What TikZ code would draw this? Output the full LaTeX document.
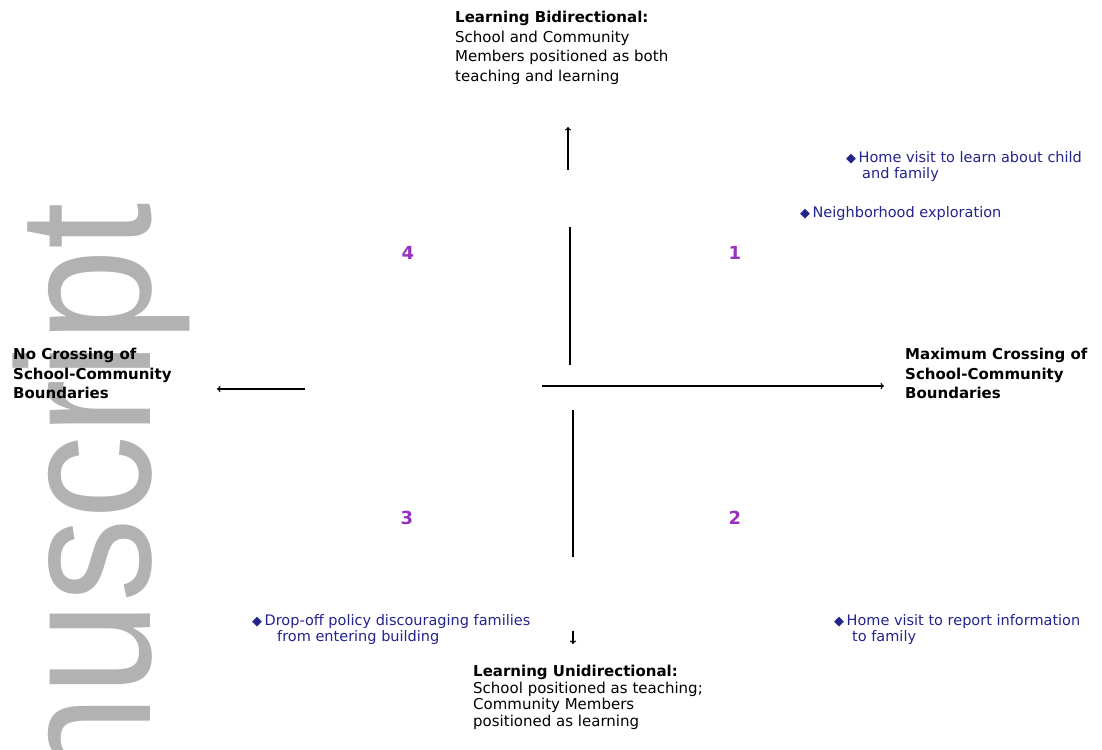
\documentclass[tikz,border=0pt]{standalone}
\usepackage{fontspec}
\setmainfont{DejaVu Sans}
\setsansfont{Liberation Sans}
\usetikzlibrary{positioning}
\definecolor{quadnum}{RGB}{150,50,190}
\definecolor{itemblue}{RGB}{35,35,140}
\definecolor{markgray}{RGB}{178,178,178}

\begin{document}
\begin{tikzpicture}[x=1pt, y=-1pt,
    axis/.style={line width=1.3pt, ->},
    axisline/.style={line width=1.3pt},
    pole/.style={anchor=north west, inner sep=0pt, align=left, font=\fontsize{15}{19.5}\selectfont},
    quad/.style={text=quadnum, font=\fontsize{18}{18}\selectfont\bfseries},
    item/.style={anchor=north west, inner sep=0pt, align=left, text=itemblue, font=\fontsize{14.5}{16}\selectfont}]
    \useasboundingbox (0,0) rectangle (1102,749);

    % Watermark
    \begin{scope}
        \clip (0,0) rectangle (1102,749);
        \node[rotate=90, xscale=0.88, anchor=base east, inner sep=0pt, text=markgray, font=\sffamily\fontsize{190}{190}\selectfont] (mark) at (150,203) {nuscript};
    \end{scope}

    % Poles of the two dimensions
    \node[pole] (bidir) at (455,11) {\textbf{Learning Bidirectional:}\\School and Community\\Members positioned as both\\teaching and learning};
    \node[pole, font=\fontsize{15}{16.5}\selectfont] (unidir) at (473,665) {\textbf{Learning Unidirectional:}\\School positioned as teaching;\\Community Members\\positioned as learning};
    \node[pole, font=\fontsize{15}{19.5}\selectfont\bfseries] (nocross) at (13,348) {No Crossing of\\School-Community\\Boundaries};
    \node[pole, font=\fontsize{15}{19.5}\selectfont\bfseries] (maxcross) at (905,348) {Maximum Crossing of\\School-Community\\Boundaries};

    % Quadrant numbers
    \node[quad] (q1) at (735,253) {1};
    \node[quad] (q2) at (735,518) {2};
    \node[quad] (q3) at (407,518) {3};
    \node[quad] (q4) at (408,253) {4};

    % Axes
    \coordinate (uptip) at (568,127);
    \coordinate (upfoot) at (568,170);
    \coordinate (uptop) at (570,227);
    \coordinate (upbot) at (570,365);
    \coordinate (rstart) at (542,386);
    \coordinate (rtip) at (884,386);
    \coordinate (lstart) at (305,389);
    \coordinate (ltip) at (217,389);
    \coordinate (dntop) at (573,410);
    \coordinate (dnbot) at (573,557);
    \coordinate (dnfoot) at (573,631);
    \coordinate (dntip) at (573,644);
    \draw[axis] (upfoot) -- (uptip);
    \draw[axisline] (uptop) -- (upbot);
    \draw[axis] (rstart) -- (rtip);
    \draw[axis] (lstart) -- (ltip);
    \draw[axisline] (dntop) -- (dnbot);
    \draw[axis] (dnfoot) -- (dntip);

    % Practices placed in the quadrants
    \node[item] (homelearn) at (846,151) {{\fontsize{13}{13}\selectfont◆}\,Home visit to learn about child\\\hspace*{16pt}and family};
    \node[item] (explore) at (800,206) {{\fontsize{13}{13}\selectfont◆}\,Neighborhood exploration};
    \node[item] (dropoff) at (252,614) {{\fontsize{13}{13}\selectfont◆}\,Drop-off policy discouraging families\\\hspace*{25pt}from entering building};
    \node[item] (homereport) at (834,614) {{\fontsize{13}{13}\selectfont◆}\,Home visit to report information\\\hspace*{18pt}to family};
\end{tikzpicture}
\end{document}
